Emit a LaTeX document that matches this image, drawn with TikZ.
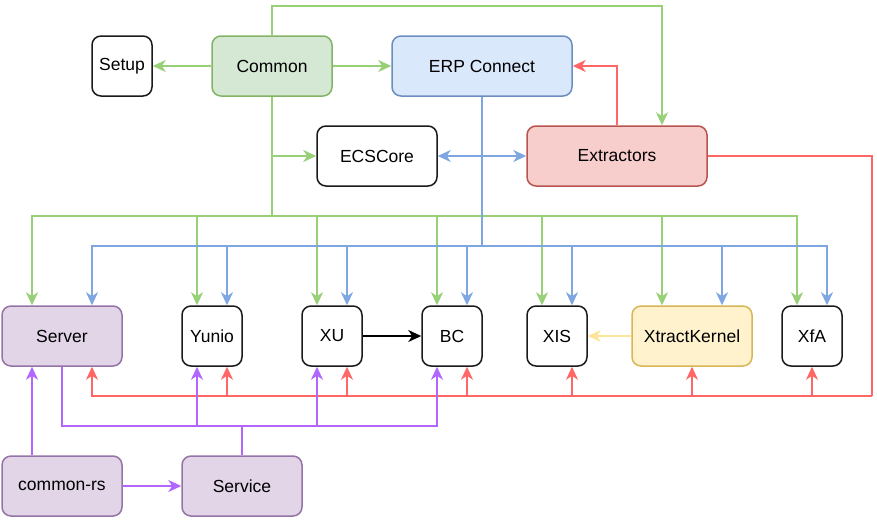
\documentclass[tikz,border=0pt]{standalone}
\usepackage{fontspec}
\setmainfont{Liberation Sans}
\usetikzlibrary{arrows.meta,calc}
\definecolor{gline}{HTML}{97D077}
\definecolor{bline}{HTML}{7EA6E0}
\definecolor{rline}{HTML}{FF6666}
\definecolor{pline}{HTML}{B266FF}
\definecolor{yline}{HTML}{FFE599}
\definecolor{gfill}{HTML}{D5E8D4}\definecolor{gdraw}{HTML}{82B366}
\definecolor{bfill}{HTML}{DAE8FC}\definecolor{bdraw}{HTML}{6C8EBF}
\definecolor{rfill}{HTML}{F8CECC}\definecolor{rdraw}{HTML}{B85450}
\definecolor{pfill}{HTML}{E1D5E7}\definecolor{pdraw}{HTML}{9673A6}
\definecolor{yfill}{HTML}{FFF2CC}\definecolor{ydraw}{HTML}{D6B656}
\definecolor{kdraw}{HTML}{1A1A1A}
\tikzset{
  box/.style={draw=kdraw, fill=white, line width=1.5pt, rounded corners=9pt,
    minimum height=60pt, minimum width=60pt, inner sep=0pt,
    font=\fontsize{17.5}{21}\selectfont, text=black},
  wide/.style={minimum width=120pt},
  wider/.style={minimum width=180pt},
  gbox/.style={fill=gfill, draw=gdraw},
  bbox/.style={fill=bfill, draw=bdraw},
  rbox/.style={fill=rfill, draw=rdraw},
  pbox/.style={fill=pfill, draw=pdraw},
  ybox/.style={fill=yfill, draw=ydraw},
  tip/.tip={Stealth[length=13pt, width=12pt, inset=4pt]},
  conn/.style={line width=1.5pt, -tip},
  plainconn/.style={line width=1.5pt},
  gc/.style={conn, draw=gline},
  bc/.style={conn, draw=bline},
  rc/.style={conn, draw=rline},
  pc/.style={conn, draw=pline},
}
\begin{document}
\begin{tikzpicture}[x=1pt, y=-1pt]
\useasboundingbox (0,0) rectangle (877,520);
% nodes
\node[box] (Setup) at (122,66) {Setup};
\node[box, wide, gbox] (Common) at (272,66) {Common};
\node[box, wider, bbox] (ERP) at (482,66) {ERP Connect};
\node[box, wide] (ECSCore) at (377,156) {ECSCore};
\node[box, wider, rbox] (Extractors) at (617,156) {Extractors};
\node[box, wide, pbox] (Server) at (62,336) {Server};
\node[box] (Yunio) at (212,336) {Yunio};
\node[box] (XU) at (332,336) {XU};
\node[box] (BC) at (452,336) {BC};
\node[box] (XIS) at (557,336) {XIS};
\node[box, wide, ybox] (XK) at (692,336) {XtractKernel};
\node[box] (XfA) at (812,336) {XfA};
\node[box, wide, pbox] (commonrs) at (62,486) {common-rs};
\node[box, wide, pbox] (Service) at (242,486) {Service};
% bus coordinates
\coordinate (gbus) at (272,216);
\coordinate (bbus) at (482,246);
\coordinate (rbus) at (872,396);
\coordinate (pbus) at (242,426);
% green
\draw[gc] (Common.west) -- (Setup.east);
\draw[gc] (Common.east) -- (ERP.west);
\draw[gc] (Common.north) -- ++(0,-29.5) -| ([xshift=45pt]Extractors.north);
\draw[plainconn, draw=gline] (Common.south) -- (gbus);
\draw[gc] (Common.south |- ECSCore.west) -- (ECSCore.west);
\draw[gc] (gbus) -| ([xshift=-30pt]Server.north);
\draw[gc] (gbus) -| ([xshift=-15pt]Yunio.north);
\draw[gc] (gbus) -| ([xshift=-15pt]XU.north);
\draw[gc] (gbus) -| ([xshift=-15pt]BC.north);
\draw[gc] (gbus) -| ([xshift=-15pt]XIS.north);
\draw[gc] (gbus) -| ([xshift=-30pt]XK.north);
\draw[gc] (gbus) -| ([xshift=-15pt]XfA.north);
% blue
\draw[plainconn, draw=bline] (ERP.south) -- (bbus);
\draw[bc] (bbus) -| ([xshift=30pt]Server.north);
\draw[bc] (bbus) -| ([xshift=15pt]Yunio.north);
\draw[bc] (bbus) -| ([xshift=15pt]XU.north);
\draw[bc] (bbus) -| ([xshift=15pt]BC.north);
\draw[bc] (bbus) -| ([xshift=15pt]XIS.north);
\draw[bc] (bbus) -| ([xshift=30pt]XK.north);
\draw[bc] (bbus) -| ([xshift=15pt]XfA.north);
\draw[bc, tip-tip] (ECSCore.east) -- (Extractors.west);
% red
\draw[rc] (Extractors.north) |- (ERP.east);
\draw[plainconn, draw=rline] (Extractors.east) -| (rbus);
\draw[rc] (rbus) -| ([xshift=30pt]Server.south);
\draw[rc] (rbus) -| ([xshift=15pt]Yunio.south);
\draw[rc] (rbus) -| ([xshift=15pt]XU.south);
\draw[rc] (rbus) -| ([xshift=15pt]BC.south);
\draw[rc] (rbus) -| ([xshift=15pt]XIS.south);
\draw[rc] (rbus) -| (XK.south);
\draw[rc] (rbus) -| (XfA.south);
% purple
\draw[pc] ([xshift=-30pt]commonrs.north) -- ([xshift=-30pt]Server.south);
\draw[pc] (commonrs.east) -- (Service.west);
\draw[plainconn, draw=pline] (Service.north) -- (pbus);
\draw[plainconn, draw=pline] (Server.south) |- (pbus);
\draw[pc] (pbus) -| ([xshift=-15pt]Yunio.south);
\draw[pc] (pbus) -| ([xshift=-15pt]XU.south);
\draw[pc] (pbus) -| ([xshift=-15pt]BC.south);
% black and yellow
\draw[conn, draw=black] (XU.east) -- (BC.west);
\draw[conn, draw=yline] (XK.west) -- (XIS.east);
\end{tikzpicture}
\end{document}
